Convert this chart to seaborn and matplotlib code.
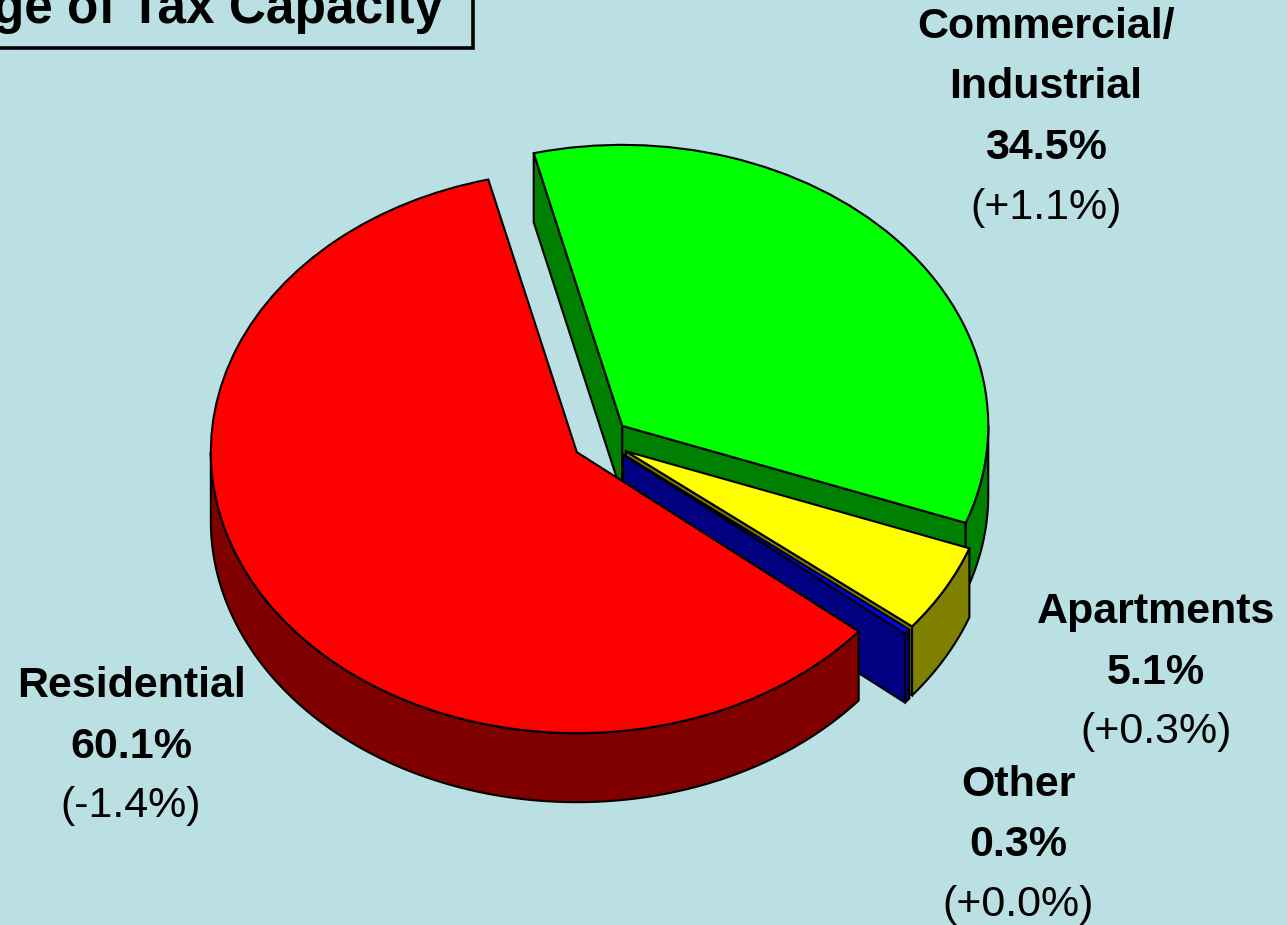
import numpy as np
import matplotlib
matplotlib.use("Agg")
import matplotlib.pyplot as plt
from matplotlib.patches import Polygon, Rectangle
from matplotlib.transforms import Affine2D
import seaborn as sns

# ---------------- data ----------------
categories = ["Commercial/\nIndustrial", "Apartments", "Other", "Residential"]
shares = [34.5, 5.1, 0.3, 60.1]
changes = ["+1.1%", "+0.3%", "+0.0%", "-1.4%"]
title = "Percentage of Tax Capacity"

top_colors = ["#00FF00", "#FFFF00", "#0000FF", "#FF0000"]
side_colors = ["#008000", "#808000", "#000080", "#800000"]
BG = "#BAE0E3"

sns.set_theme(style="white")
plt.rcParams["font.family"] = ["Liberation Sans", "DejaVu Sans"]

W, H = 1287, 925
fig = plt.figure(figsize=(W / 100, H / 100), dpi=100, facecolor=BG)
ax = fig.add_axes([0, 0, 1, 1])
ax.set_facecolor(BG)

# geometry of the tilted pie (radius = 1 data unit)
rx = 366.0
cx_px, cy_px = 601.0, 440.5
tilt = 281 / 366
depth = 69 / 366
explode = 0.078
LW = 1.5

wedges, _ = ax.pie(shares, colors=top_colors, startangle=104, counterclock=False,
                   explode=[explode] * len(shares), radius=1.0, center=(0, 0),
                   wedgeprops=dict(edgecolor="black", linewidth=LW))
squash = Affine2D().scale(1.0, tilt)


def pt(c, a, z):
    return (c[0] + np.cos(a), tilt * (c[1] + np.sin(a)) - z)


for i, w in enumerate(wedges):
    base = 2 + 3 * i
    c = w.center
    t1, t2 = w.theta1, w.theta2
    a1, a2 = np.radians(t1), np.radians(t2)
    tip_top = (c[0], tilt * c[1])
    tip_bot = (c[0], tilt * c[1] - depth)
    # radial walls
    for a, vis in [(a2, np.cos(a2) < 0), (a1, np.cos(a1) > 0)]:
        if vis:
            poly = [tip_top, pt(c, a, 0), pt(c, a, depth), tip_bot]
            ax.add_patch(Polygon(poly, closed=True, facecolor=side_colors[i],
                                 edgecolor="black", linewidth=LW, zorder=base))
    # outer curved wall (front half only)
    for n in (-1, 0, 1):
        lo = max(t1, -180 + 360 * n)
        hi = min(t2, 360 * n)
        if hi > lo:
            tt = np.radians(np.linspace(lo, hi, 120))
            top = [pt(c, a, 0) for a in tt]
            bot = [pt(c, a, depth) for a in tt[::-1]]
            ax.add_patch(Polygon(top + bot, closed=True, facecolor=side_colors[i],
                                 edgecolor="black", linewidth=LW, zorder=base + 1))
    w.set_transform(squash + ax.transData)
    w.set_zorder(base + 2)

ax.set_xlim(-cx_px / rx, (W - cx_px) / rx)
ax.set_ylim(-(H - cy_px) / rx, cy_px / rx)
ax.set_aspect("auto")
ax.axis("off")


def fx(x):
    return x / W


def fy(y):
    return 1 - y / H


# labels: (center x px, first baseline px)
label_pos = [(1046, 38), (1156, 623), (1018, 796), (131, 697)]
FS = 31
for name, share, chg, (x, y) in zip(categories, shares, changes, label_pos):
    lines = name.split("\n") + [f"{share:.1f}%"]
    yy = y
    for ln in lines:
        fig.text(fx(x), fy(yy), ln, ha="center", va="baseline", fontsize=FS,
                 fontweight="bold", color="black")
        yy += 60.5
    fig.text(fx(x), fy(yy - 1), f"({chg})", ha="center", va="baseline", fontsize=FS,
             color="black")

# title box (partially cut off by the figure edge, as in the reference)
fig.add_artist(Rectangle((fx(-10), fy(48)), fx(473) - fx(-10), fy(-20) - fy(48),
                         transform=fig.transFigure, facecolor="none",
                         edgecolor="black", linewidth=2.6, clip_on=False))
fig.text(fx(443), fy(23), title, ha="right", va="baseline", fontsize=37,
         fontweight="bold", color="black")

fig.savefig("out.png", dpi=100, facecolor=BG)
